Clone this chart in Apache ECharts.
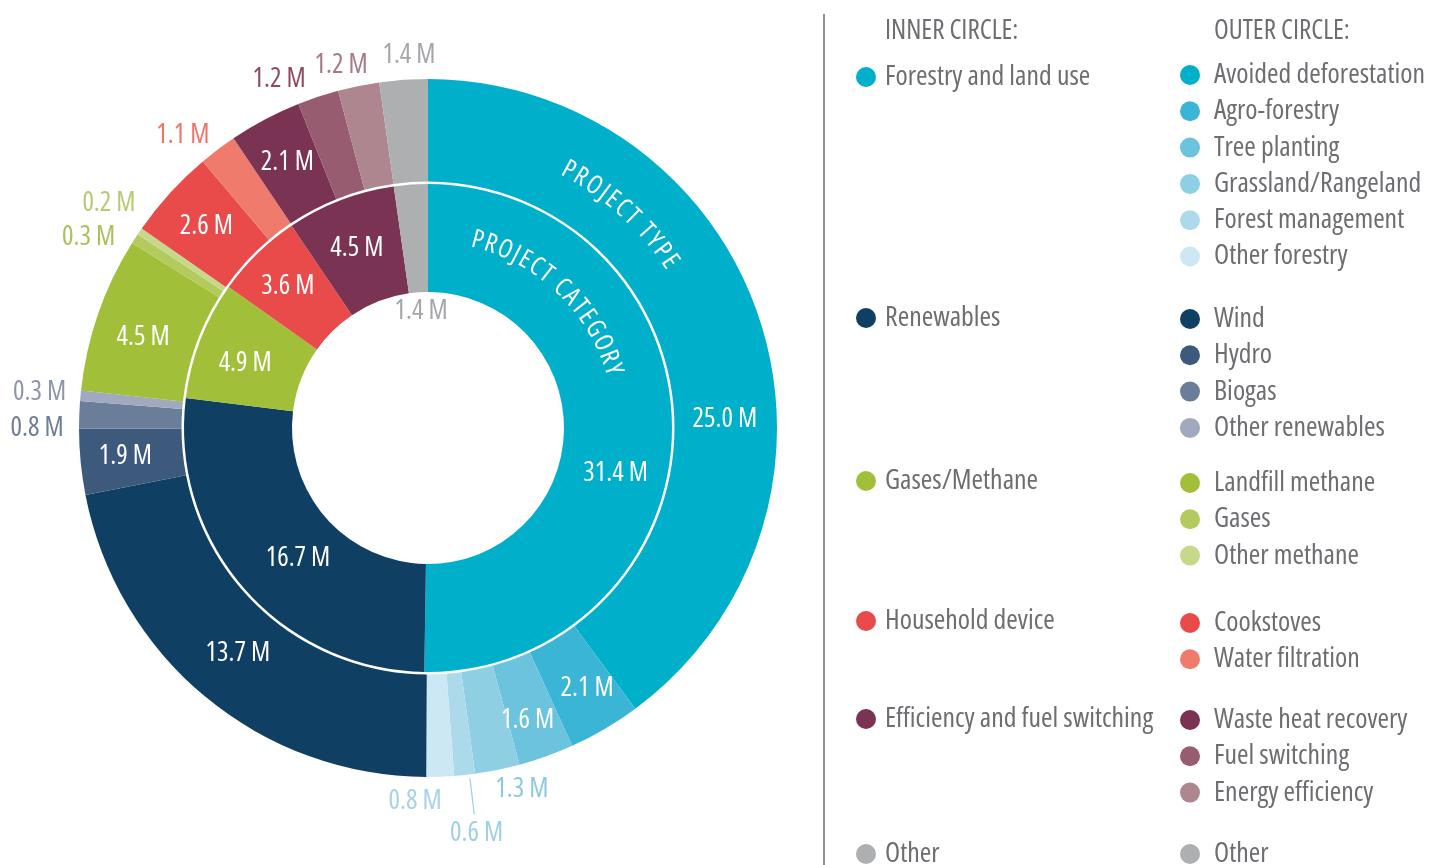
<!DOCTYPE html>
<html>
<head>
<meta charset="utf-8">
<script src="https://cdn.jsdelivr.net/npm/echarts@6.0.0/dist/echarts.min.js"></script>
<style>
  html, body { margin: 0; padding: 0; background: #ffffff; }
  #chart { width: 1440px; height: 865px; }
</style>
</head>
<body>
<div id="chart"></div>
<script>
// Inner ring: project categories (million tonnes)
const categoryNames = ['Forestry and land use', 'Renewables', 'Gases/Methane', 'Household device', 'Efficiency and fuel switching', 'Other'];
const categoryValues = [31.4, 16.7, 4.9, 3.6, 4.5, 1.4];

// Outer ring: project types, grouped by category
const typeNames = [
  ['Avoided deforestation', 'Agro-forestry', 'Tree planting', 'Grassland/Rangeland', 'Forest management', 'Other forestry'],
  ['Wind', 'Hydro', 'Biogas', 'Other renewables'],
  ['Landfill methane', 'Gases', 'Other methane'],
  ['Cookstoves', 'Water filtration'],
  ['Waste heat recovery', 'Fuel switching', 'Energy efficiency'],
  ['Other']
];
const typeValues = [
  [25.0, 2.1, 1.6, 1.3, 0.6, 0.8],
  [13.7, 1.9, 0.8, 0.3],
  [4.5, 0.3, 0.2],
  [2.6, 1.1],
  [2.1, 1.2, 1.2],
  [1.4]
];

// ---- styling ----
// Open Sans is a variable font; the 'condensed' stretch keyword narrows it.
const FONT = "'Open Sans', 'Roboto Condensed', 'DejaVu Sans Condensed', sans-serif";
const STRETCH = 'condensed';
const CX = 428, CY = 428;
const INNER_R = [136, 244];
const OUTER_R = [246.5, 349];
const TEXT_GREY = '#6d6e71';

const categoryColors = ['#00AFCA', '#0F3F63', '#A2BF3A', '#E84B4A', '#7A3352', '#ADAFB1'];
const typeColors = [
  ['#00AFCA', '#3BB5D6', '#6CC3DE', '#8FCFE4', '#ADDAEA', '#CCE8F2'],
  ['#0F3F63', '#3D5A7D', '#6B7E99', '#A0A9BE'],
  ['#A2BF3A', '#B3CB5C', '#C6D98A'],
  ['#E84B4A', '#EE7B6C'],
  ['#7A3352', '#975C70', '#AD8690'],
  ['#ADAFB1']
];

// Label placement per slice: radius from centre, angular nudge (deg) from the
// slice middle, and a text colour for labels set outside the ring.
const innerSpots = [
  { r: 193, shift: 13.1 },
  { r: 184, shift: -4 },
  { r: 194, shift: -1.6 },
  { r: 199, shift: -0.4 },
  { r: 193, shift: -0.6 },
  { r: 117, shift: 0.6, color: '#a4a6a9' }
];
const outerSpots = [
  { r: 297, shift: 16.5 },
  { r: 305, shift: -1 },
  { r: 309, shift: 1 },
  { r: 373, shift: -3.1, color: '#8cc9e0' },
  { r: 408, shift: -0.8, color: '#9fd0e4', line: true },
  { r: 374, shift: 4, color: '#a6d3e6' },
  { r: 295, shift: 0.5 },
  { r: 304, shift: 0.3 },
  { r: 391, shift: -2.2, color: '#6e7d95' },
  { r: 390, shift: 0, color: '#8d96a9' },
  { r: 299, shift: -1.4 },
  { r: 389, shift: -3.6, color: '#a9c15a' },
  { r: 390, shift: 0.8, color: '#b5ca72' },
  { r: 300, shift: 0 },
  { r: 382, shift: -2.9, color: '#ee7565' },
  { r: 301, shift: 0 },
  { r: 379, shift: -4.75, color: '#8d4a60' },
  { r: 373, shift: -2, color: '#a57a86' },
  { r: 373.5, shift: 1.1, color: '#a4a6a9' }
];

const flatNames = typeNames.flat();
const flatValues = typeValues.flat();
const flatColors = typeColors.flat();

// middle angle of each slice, degrees clockwise from 12 o'clock
function midAngles(values) {
  const total = values.reduce((a, b) => a + b, 0);
  let acc = 0;
  return values.map(v => { const m = (acc + v / 2) / total * 360; acc += v; return m; });
}
const mids = [midAngles(categoryValues), midAngles(flatValues)];
const spots = [innerSpots, outerSpots];

function polar(deg, r) {
  const a = deg * Math.PI / 180;
  return [CX + r * Math.sin(a), CY - r * Math.cos(a)];
}

const fmt = p => p.value.toFixed(1) + ' M';

function makeData(names, values, colors, spotList) {
  return names.map((n, i) => {
    const s = spotList[i];
    const outside = !!s.color;
    return {
      name: n,
      value: values[i],
      itemStyle: { color: colors[i] },
      label: {
        position: outside ? 'outside' : 'inside',
        color: outside ? s.color : '#ffffff'
      },
      labelLine: { show: !!s.line, lineStyle: { color: s.color || '#fff', width: 1.2 } }
    };
  });
}

function labelLayout(p) {
  const s = spots[p.seriesIndex][p.dataIndex];
  const deg = mids[p.seriesIndex][p.dataIndex] + s.shift;
  const [x, y] = polar(deg, s.r);
  const out = { x: x, y: y, align: 'center', verticalAlign: 'middle' };
  if (s.line) {
    out.labelLinePoints = [polar(deg, 353), polar(deg, 371), polar(deg, 389)];
  }
  return out;
}

// Curved ring captions, one text element per character
const measureCtx = document.createElement('canvas').getContext('2d');
function arcText(str, rMid, centerDeg, size, spacing) {
  const font = STRETCH + ' 500 ' + size + 'px ' + FONT;
  measureCtx.font = font;
  const chars = Array.from(str);
  const widths = chars.map(ch => measureCtx.measureText(ch).width);
  const total = widths.reduce((a, b) => a + b, 0) + spacing * (chars.length - 1);
  let s = -total / 2;
  const els = [];
  chars.forEach((ch, i) => {
    const mid = s + widths[i] / 2;
    const deg = centerDeg + (mid / rMid) * 180 / Math.PI;
    const [x, y] = polar(deg, rMid);
    els.push({
      type: 'text', x: x, y: y, rotation: -deg * Math.PI / 180, z: 100, silent: true,
      style: {
        text: ch, fill: '#ffffff', font: font,
        align: 'center', verticalAlign: 'middle',
        textAlign: 'center', textVerticalAlign: 'middle'
      }
    });
    s += widths[i] + spacing;
  });
  return els;
}

// Legend rows
const ROW_H = 30;
const ROW_STEP = 36.3;
const innerRowCenters = [77, 318, 481, 621, 719, 854];
const outerRowCenters = [75, 319, 483, 623, 720, 854];
const legendTextStyle = pad => ({
  color: TEXT_GREY, fontSize: 27.8, fontFamily: FONT, fontStyle: STRETCH,
  lineHeight: ROW_H, padding: [0, 0, 0, pad]
});
const legends = [];
categoryNames.forEach((n, i) => {
  legends.push({
    left: 856, top: innerRowCenters[i] - ROW_H / 2, padding: 0,
    data: [n], icon: 'circle', itemWidth: 20, itemHeight: 20,
    selectedMode: false, textStyle: legendTextStyle(4)
  });
});
typeNames.forEach((g, i) => {
  legends.push({
    left: 1180, top: outerRowCenters[i] - ROW_H / 2, padding: 0, orient: 'vertical',
    data: g, icon: 'circle', itemWidth: 20, itemHeight: 20, itemGap: ROW_STEP - ROW_H,
    selectedMode: false, textStyle: legendTextStyle(9)
  });
});

const headingStyle = { color: TEXT_GREY, fontSize: 27, fontWeight: 'normal', fontFamily: FONT, fontStyle: STRETCH };
const ringLabel = { show: true, formatter: fmt, fontSize: 27, fontWeight: 500, fontFamily: FONT, fontStyle: STRETCH };

const chart = echarts.init(document.getElementById('chart'), null, { renderer: 'canvas' });
chart.setOption({
  animation: false,
  backgroundColor: '#ffffff',
  title: [
    { text: 'INNER CIRCLE:', left: 885, top: 18, padding: 0, textStyle: headingStyle },
    { text: 'OUTER CIRCLE:', left: 1214, top: 18, padding: 0, textStyle: headingStyle }
  ],
  legend: legends,
  series: [
    {
      type: 'pie', name: 'Project category',
      center: [CX, CY], radius: INNER_R, startAngle: 90, clockwise: true,
      avoidLabelOverlap: false, emphasis: { disabled: true },
      label: ringLabel,
      labelLayout: labelLayout,
      data: makeData(categoryNames, categoryValues, categoryColors, innerSpots)
    },
    {
      type: 'pie', name: 'Project type',
      center: [CX, CY], radius: OUTER_R, startAngle: 90, clockwise: true,
      avoidLabelOverlap: false, emphasis: { disabled: true },
      label: ringLabel,
      labelLine: { length: 10, length2: 10 },
      labelLayout: labelLayout,
      data: makeData(flatNames, flatValues, flatColors, outerSpots)
    }
  ],
  graphic: [
    { type: 'line', silent: true, shape: { x1: 824, y1: 14, x2: 824, y2: 865 },
      style: { stroke: '#8f8f8f', lineWidth: 2 } },
    ...arcText('PROJECT TYPE', 293.5, 42, 26, 2.5),
    ...arcText('PROJECT CATEGORY', 194, 43.5, 26, 2.2)
  ]
});
</script>
</body>
</html>
